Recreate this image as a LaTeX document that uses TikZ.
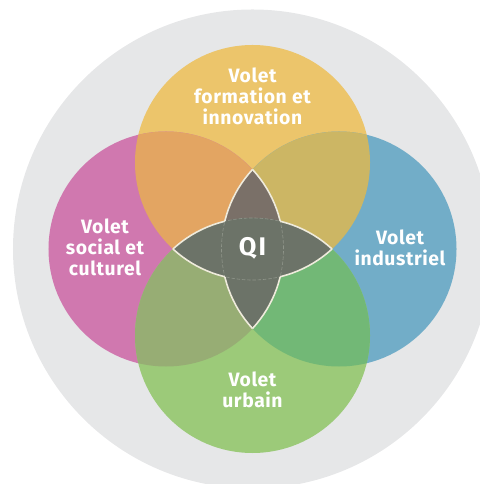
\documentclass[tikz,border=0pt]{standalone}
\usepackage{fontspec}
\setmainfont{Fira Sans}
\definecolor{bggray}{HTML}{E6E7E8}
\definecolor{cyellow}{HTML}{ECC56B}
\definecolor{cpink}{HTML}{D078AF}
\definecolor{cblue}{HTML}{72ADC8}
\definecolor{cgreen}{HTML}{9CCA79}
\definecolor{corange}{HTML}{E3A562}
\definecolor{colive}{HTML}{CCB664}
\definecolor{cmoss}{HTML}{97AD74}
\definecolor{cleaf}{HTML}{72B876}
\definecolor{cbrown}{HTML}{7A7068}
\definecolor{cstar}{HTML}{6C7368}
\definecolor{cedge}{HTML}{EFEBDC}
\definecolor{cdash}{HTML}{8E9489}
\begin{document}
\begin{tikzpicture}[line join=round,
  volet/.style={text=white,align=center,font=\bfseries\fontsize{11}{11.9}\selectfont\addfontfeatures{LetterSpace=3}},
  staredge/.style={cedge,line width=.9pt},
  innerarc/.style={cdash,line width=.35pt,dash pattern=on 2pt off 1pt}]
  \useasboundingbox (-5.05,-4.70) rectangle (4.53,4.98);
  \coordinate (O) at (0,0);
  \coordinate (T) at (0,1.73);
  \coordinate (B) at (0,-1.73);
  \coordinate (L) at (-1.73,0);
  \coordinate (R) at (1.73,0);
  \fill[bggray] (O) circle (4.79);
  \fill[cyellow] (T) circle (2.35);
  \fill[cpink] (L) circle (2.35);
  \fill[cblue] (R) circle (2.35);
  \fill[cgreen] (B) circle (2.35);
  \begin{scope}
    \clip (T) circle (2.35);
    \fill[corange] (L) circle (2.35);
    \fill[colive] (R) circle (2.35);
  \end{scope}
  \begin{scope}
    \clip (B) circle (2.35);
    \fill[cmoss] (L) circle (2.35);
    \fill[cleaf] (R) circle (2.35);
  \end{scope}
  \begin{scope}
    \clip (L) circle (2.35); \clip (R) circle (2.35);
    \fill[cbrown] (T) circle (2.35);
    \fill[cstar] (B) circle (2.35);
  \end{scope}
  \begin{scope}
    \clip (T) circle (2.35); \clip (B) circle (2.35);
    \fill[cstar] (L) circle (2.35);
    \fill[cstar] (R) circle (2.35);
  \end{scope}
  \foreach \a/\b/\c/\d in {T/L/R/B,B/L/R/T,L/T/B/R,R/T/B/L}{
    \begin{scope}
      \clip (\a) circle (2.35); \clip (\b) circle (2.35); \clip (\c) circle (2.35);
      \draw[innerarc] (\d) circle (2.35);
    \end{scope}
  }
  \foreach \a/\b/\c/\d in {L/T/B/R,R/T/B/L,B/L/R/T,T/L/R/B}{
    \begin{scope}[even odd rule]
      \clip (\a) circle (2.35);
      \clip (\b) circle (2.35) (\c) circle (2.35);
      \draw[staredge] (\d) circle (2.35);
    \end{scope}
  }
  \node[volet] (formation) at (0,3.06) {Volet\\formation et\\innovation};
  \node[volet] (social) at (-2.95,0.04) {Volet\\social et\\culturel};
  \node[volet] (industriel) at (2.95,0.02) {Volet\\industriel};
  \node[volet] (urbain) at (0,-2.82) {Volet\\urbain};
  \node[text=white,font=\bfseries\fontsize{14.5}{15}\selectfont\addfontfeatures{LetterSpace=8}] (qi) at (0,0.02) {QI};
\end{tikzpicture}
\end{document}
